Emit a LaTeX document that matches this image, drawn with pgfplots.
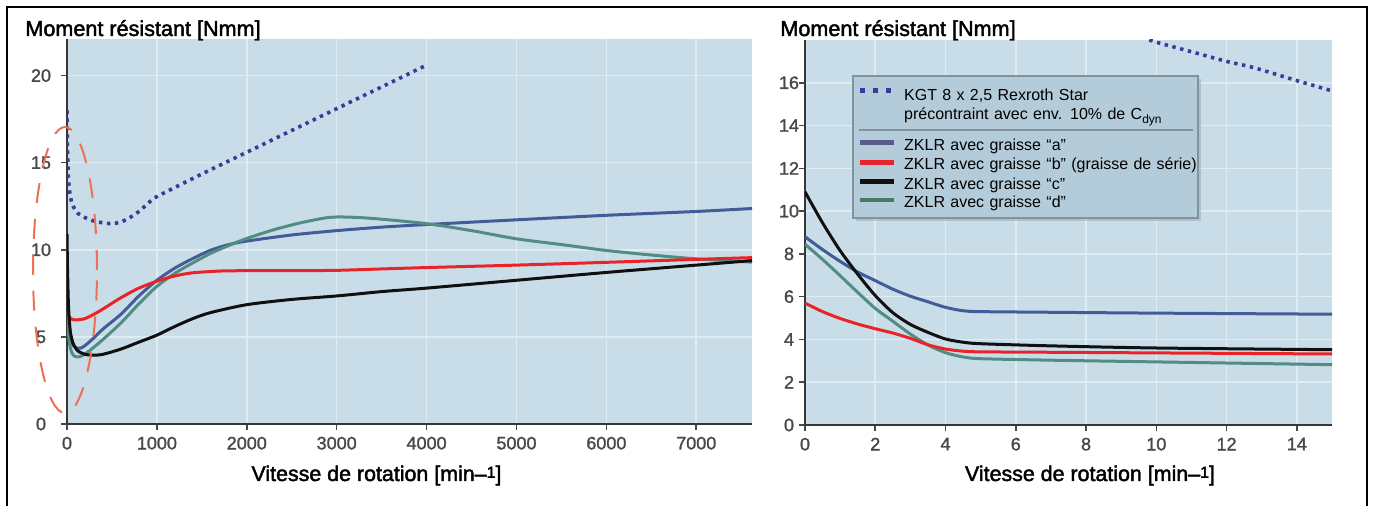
\documentclass[border=0pt]{standalone}
\usepackage{fontspec}
\setmainfont{Liberation Sans}
\newfontfamily\medfont[FakeBold=2]{Liberation Sans}
\newfontfamily\tickfam[FakeBold=1.5]{Liberation Sans}
\usepackage{pgfplots}
\pgfplotsset{compat=1.18}
\usetikzlibrary{shadows}

\definecolor{plotbg}{RGB}{201,221,233}
\definecolor{gridc}{RGB}{224,235,242}
\definecolor{kgt}{RGB}{58,58,155}
\definecolor{ca}{RGB}{66,92,152}
\definecolor{cb}{RGB}{232,36,40}
\definecolor{cc}{RGB}{16,16,16}
\definecolor{cd}{RGB}{82,140,130}
\definecolor{lega}{RGB}{88,92,140}
\definecolor{legd}{RGB}{72,122,98}
\definecolor{ellc}{RGB}{240,112,84}
\definecolor{legfill}{RGB}{180,204,217}
\definecolor{legdraw}{RGB}{128,148,160}
\definecolor{sepc}{RGB}{128,146,158}
\definecolor{tickc}{RGB}{72,72,72}
\definecolor{axc}{RGB}{55,55,55}

\newcommand\titlefont{\medfont\fontsize{10.8}{13}\selectfont}
\newcommand\labfont{\medfont\fontsize{10.7}{13}\selectfont}
\newcommand\tickfont{\tickfam\fontsize{9}{10}\selectfont}
\newcommand\legfont{\fontsize{8}{9.6}\selectfont}
\newcommand\Z[1]{\raisebox{0pt}[0pt][0pt]{#1}}

\pgfplotsset{
  panel/.style={
    scale only axis, anchor=south west,
    axis background/.style={fill=plotbg},
    axis x line*=bottom, axis y line*=left,
    x axis line style={axc, line width=1pt},
    y axis line style={axc, line width=1.4pt},
    grid=major, major grid style={gridc, line width=0.8pt},
    tick align=outside, major tick length=3pt,
    tick style={tickc, line width=0.8pt},
    ticklabel style={font=\tickfont, text=tickc},
    /pgf/number format/assume math mode=true,
    /pgf/number format/1000 sep={},
    xticklabel style={anchor=north, inner sep=0pt, yshift=-3.2pt},
    every axis plot/.append style={line width=1.5pt, line join=round, smooth, tension=0.45},
  },
  kgtline/.style={kgt, line width=1.8pt, dash pattern=on 1.7pt off 2.3pt, line cap=butt},
}

\begin{document}
\begin{tikzpicture}
\path[use as bounding box] (0,0) rectangle (687pt,-253pt);

% left panel: full speed range
\begin{axis}[panel, at={(33.5pt,-212pt)}, width=342.5pt, height=192.5pt,
    xmin=0, xmax=7620, ymin=0, ymax=22.1,
    xtick={0,1000,...,7000}, ytick={0,5,...,20},
    yticklabel style={anchor=center, inner sep=0pt, xshift=-10pt}]
  \addplot[kgtline] coordinates {(0,18.0) (3,16.5) (8,15.2) (15,14.2) (30,13.3)
    (60,12.6) (120,12.1) (200,11.85) (300,11.65) (400,11.55) (500,11.5) (600,11.6)
    (700,11.85) (800,12.2) (900,12.65) (1000,13.05) (1500,14.35) (2000,15.6)
    (2500,16.85) (3000,18.1) (3500,19.35) (4000,20.6)};
  \addplot[ca] coordinates {(0,8.8) (5,7.6) (10,6.6) (20,5.6) (40,4.9) (70,4.5)
    (110,4.35) (150,4.35) (200,4.5) (300,4.95) (400,5.45) (600,6.3) (800,7.35)
    (1000,8.25) (1200,8.95) (1400,9.5) (1600,9.98) (1800,10.3) (2000,10.5)
    (2500,10.85) (3000,11.1) (3500,11.3) (4000,11.45) (5000,11.72) (6000,11.98)
    (7000,12.2) (7620,12.37)};
  \addplot[cd] coordinates {(0,8.4) (5,7.0) (10,6.0) (20,5.0) (40,4.3) (70,3.95)
    (110,3.85) (160,3.9) (250,4.2) (400,4.85) (600,5.8) (800,6.9) (1000,7.9)
    (1200,8.65) (1400,9.25) (1600,9.8) (1800,10.25) (2000,10.65) (2300,11.15)
    (2600,11.55) (2900,11.85) (3100,11.88) (3400,11.8) (4000,11.5) (4500,11.1)
    (5000,10.63) (5500,10.3) (6000,9.96) (6500,9.7) (7000,9.48) (7620,9.29)};
  \addplot[cb] coordinates {(0,6.5) (10,6.3) (30,6.1) (60,6.0) (110,5.98) (200,6.05)
    (300,6.3) (400,6.6) (600,7.25) (800,7.8) (1000,8.2) (1200,8.5) (1400,8.68)
    (1700,8.78) (2000,8.8) (2500,8.8) (3000,8.82) (3500,8.9) (4000,8.98)
    (5000,9.12) (6000,9.28) (7000,9.45) (7620,9.55)};
  \addplot[cc] coordinates {(0,10.9) (4,9.5) (8,8.4) (15,7.0) (25,6.0) (40,5.2)
    (70,4.6) (120,4.2) (200,4.0) (300,3.95) (400,4.0) (600,4.3) (800,4.7)
    (1000,5.1) (1200,5.6) (1400,6.05) (1600,6.4) (2000,6.85) (2500,7.15)
    (3000,7.35) (3500,7.6) (4000,7.8) (5000,8.25) (6000,8.7) (7000,9.12) (7620,9.38)};
\end{axis}

% right panel: low speed range
\begin{axis}[panel, at={(402.5pt,-212.5pt)}, width=263.5pt, height=192.5pt,
    xmin=0, xmax=15, ymin=0, ymax=18,
    xtick={0,2,...,14}, ytick={0,2,...,16},
    yticklabel style={anchor=center, inner sep=0pt, xshift=-5pt}]
  \addplot[kgtline] coordinates {(9.8,18.0) (10.1,17.85) (11,17.45) (12,17.0)
    (12.6,16.78) (13,16.6) (14,16.1) (15,15.62)};
  \addplot[ca] coordinates {(0,8.8) (0.5,8.2) (1,7.65) (1.5,7.15) (2,6.75) (2.5,6.35)
    (3,6.02) (3.5,5.76) (4,5.5) (4.5,5.34) (5,5.3) (7,5.27) (10,5.23) (15,5.18)};
  \addplot[cd] coordinates {(0,8.45) (0.5,7.74) (1,6.98) (1.5,6.2) (2,5.45)
    (2.5,4.85) (3,4.25) (3.5,3.74) (4,3.38) (4.5,3.18) (5,3.1) (7,3.03) (10,2.95)
    (15,2.82)};
  \addplot[cb] coordinates {(0,5.7) (0.5,5.3) (1,4.98) (1.5,4.72) (2,4.5) (2.5,4.3)
    (3,4.05) (3.5,3.75) (4,3.55) (4.5,3.45) (5,3.42) (7,3.4) (10,3.37) (15,3.32)};
  \addplot[cc] coordinates {(0,10.9) (0.5,9.45) (1,8.15) (1.5,7.05) (2,6.05)
    (2.5,5.25) (3,4.7) (3.5,4.33) (4,4.02) (4.5,3.87) (5,3.8) (7,3.7) (10,3.6)
    (15,3.52)};
\end{axis}

\begin{scope}[x=0.5pt, y=-0.5pt]
  \draw[line width=1pt] (7,506) -- (7,7) -- (1367,7) -- (1367,506);
  \node[anchor=base west, inner sep=0pt, font=\titlefont] at (25,36) {Moment résistant [Nmm]};
  \node[anchor=base west, inner sep=0pt, font=\titlefont] at (780,36) {Moment résistant [Nmm]};
  \node[anchor=base, inner sep=0pt, font=\labfont] at (376.5,481)
    {Vitesse de rotation [min–\raisebox{1.6pt}{\fontsize{8}{8}\selectfont 1}]};
  \node[anchor=base, inner sep=0pt, font=\labfont] at (1090,481)
    {Vitesse de rotation [min–\raisebox{1.6pt}{\fontsize{8}{8}\selectfont 1}]};
  % marked region near zero speed
  \draw[ellc, line width=1pt, dash pattern=on 10pt off 8pt] (65,270) ellipse [x radius=16pt, y radius=71.5pt];
  % legend
  \node[anchor=north west, inner sep=0pt, draw=legdraw, line width=1.2pt, fill=legfill,
        text width=172.5pt, font=\legfont,
        drop shadow={shadow xshift=1.2pt, shadow yshift=-1.2pt, opacity=0.3}] at (852,75) {%
    \noindent\renewcommand\arraystretch{0}%
    \begin{tabular}{@{\hspace{3.15pt}}l@{\hspace{5.35pt}}l@{}}
      \rule{0pt}{12pt}\Z{\makebox[17pt][l]{\color{kgt}\rule[3.4pt]{2.5pt}{2.5pt}\hspace{4.2pt}\rule[3.4pt]{2.5pt}{2.5pt}\hspace{4.2pt}\rule[3.4pt]{2.5pt}{2.5pt}}}
        & \Z{KGT 8 x 2,5 Rexroth Star}\\
      \rule{0pt}{9.85pt} & \Z{précontraint avec env. 10\% de C\textsubscript{dyn}}\\
      \multicolumn{2}{@{\hspace{3pt}}l@{}}{\rule{0pt}{5.15pt}\Z{\makebox[0pt][l]{\textcolor{sepc}{\rule[-0.5pt]{167pt}{1pt}}}}}\\
      \rule{0pt}{10pt}\Z{\textcolor{lega}{\rule[2.65pt]{17pt}{2.2pt}}} & \Z{ZKLR avec graisse “a”}\\
      \rule{0pt}{9.85pt}\Z{\textcolor{cb}{\rule[2.65pt]{17pt}{2.2pt}}} & \Z{ZKLR avec graisse “b” (graisse de série)}\\
      \rule{0pt}{9.65pt}\Z{\textcolor{cc}{\rule[2.65pt]{17pt}{2.2pt}}} & \Z{ZKLR avec graisse “c”}\\
      \rule[-5.35pt]{0pt}{14.5pt}\Z{\textcolor{legd}{\rule[2.65pt]{17pt}{2.2pt}}} & \Z{ZKLR avec graisse “d”}
    \end{tabular}};
\end{scope}
\end{tikzpicture}
\end{document}
